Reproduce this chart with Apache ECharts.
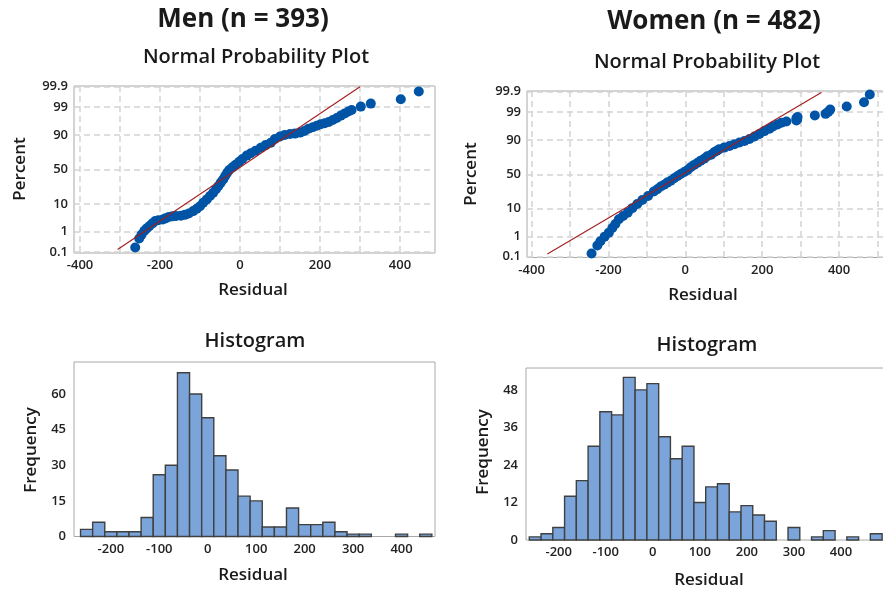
<!DOCTYPE html>
<html>
<head>
<meta charset="utf-8">
<script src="https://cdn.jsdelivr.net/npm/echarts@6/dist/echarts.min.js"></script>
<style>
  html, body { margin: 0; padding: 0; background: #ffffff; }
  #chart { width: 883px; height: 592px; }
</style>
</head>
<body>
<div id="chart"></div>
<script>
// Residual diagnostics for two groups: normal probability plots (top) and histograms (bottom).

// ---- Normal probability plot axes ----
const nppPercentTicks = [0.1, 1, 10, 50, 90, 99, 99.9];
const nppPercentLabels = ['0.1', '1', '10', '50', '90', '99', '99.9'];
const residualLabelTicks = [-400, -200, 0, 200, 400];
const residualGridTicks = [-400, -300, -200, -100, 0, 100, 200, 300, 400, 500];

// ---- Normal probability plot points: [residual, cumulative percent] ----
const menNpp = [
  [-262, 0.18], [-252, 0.5], [-246, 0.75], [-239, 1.1], [-233, 1.39], [-227, 1.7],
  [-219, 2.2], [-212, 2.7], [-204, 2.9], [-193, 3.1], [-186, 3.4], [-178, 3.8],
  [-169, 4.0], [-160, 4.1], [-148, 4.2], [-138, 4.5], [-128, 5.0], [-117, 6.0],
  [-108, 7.1], [-100, 8.5], [-92, 10.7], [-83, 13.2], [-75, 16.1], [-67, 19.2],
  [-60, 23], [-54, 26.8], [-48, 31.2], [-42, 35.6], [-37, 40.5], [-32, 45.2],
  [-27, 49.2], [-19, 53.2], [-11, 57.1], [-2, 61.4], [6, 65.2], [17, 69.8],
  [27, 72.9], [39, 75.8], [52, 79.1], [64, 81.9], [77, 84.2], [87, 87.3],
  [100, 89.1], [112, 90.2], [125, 90.8], [137, 91.0], [150, 91.6], [161, 92.5],
  [171, 93.6], [182, 94.3], [192, 94.9], [202, 95.5], [212, 95.8], [222, 96.2],
  [232, 96.8], [242, 97.3], [252, 97.8], [262, 98.2], [271, 98.5], [279, 98.7],
  [302, 99.06], [327, 99.31], [402, 99.57], [447, 99.82]
];
const womenNpp = [
  [-244, 0.15], [-229, 0.38], [-221, 0.6], [-210, 0.97], [-199, 1.43], [-190, 2.2],
  [-182, 3.1], [-173, 4.6], [-162, 5.9], [-150, 7.5], [-138, 10.2], [-125, 13.3],
  [-112, 16.8], [-97, 20.8], [-82, 25.8], [-73, 28.8], [-64, 32.2], [-55, 34.8],
  [-47, 37.7], [-38, 40.5], [-29, 44], [-20, 47.5], [-12, 50.4], [-3, 53.4],
  [6, 56.4], [14, 60.3], [23, 63.7], [32, 66.7], [40, 69.5], [49, 71.9],
  [57, 75], [67, 76.8], [75, 79.5], [82, 81.1], [88, 82.6], [101, 84.1],
  [115, 85.5], [128, 86.9], [141, 88.3], [154, 89.4], [167, 90.7], [180, 92.1],
  [193, 93.4], [206, 94.7], [219, 95.6], [228, 96.3], [240, 96.9], [250, 97.3],
  [263, 97.6], [289, 97.8], [291, 98.0], [289, 98.2], [292, 98.4], [337, 98.61],
  [365, 98.82], [372, 99.03], [377, 99.23], [420, 99.44], [465, 99.65], [480, 99.86]
];
// Fitted normal reference lines: [residual, percent] at both ends
const menFitLine = [[-306, 0.14], [300, 99.9]];
const womenFitLine = [[-359, 0.14], [354, 99.89]];

// ---- Histograms ----
const binWidth = 25;
const histResidualTicks = [-200, -100, 0, 100, 200, 300, 400];
const menBinCenters = [-250, -225, -200, -175, -150, -125, -100, -75, -50, -25, 0, 25, 50, 75,
  100, 125, 150, 175, 200, 225, 250, 275, 300, 325, 350, 375, 400, 425, 450];
const menCounts = [3, 6, 2, 2, 2, 8, 26, 30, 69, 60, 50, 34, 28, 17,
  15, 4, 4, 12, 5, 5, 6, 2, 1, 1, 0, 0, 1, 0, 1];
const menFreqTicks = [0, 15, 30, 45, 60];
const womenBinCenters = [-250, -225, -200, -175, -150, -125, -100, -75, -50, -25, 0, 25, 50, 75,
  100, 125, 150, 175, 200, 225, 250, 275, 300, 325, 350, 375, 400, 425, 450, 475];
const womenCounts = [1, 2, 4, 14, 19, 30, 41, 40, 52, 48, 50, 33, 26, 30,
  12, 17, 18, 9, 11, 8, 6, 0, 4, 0, 1, 3, 0, 1, 0, 2];
const womenFreqTicks = [0, 12, 24, 36, 48];

// Inverse standard normal CDF (Acklam), used for the probability scale
function probit(p) {
  const a = [-3.969683028665376e+01, 2.209460984245205e+02, -2.759285104469687e+02,
    1.383577518672690e+02, -3.066479806614716e+01, 2.506628277459239e+00];
  const b = [-5.447609879822406e+01, 1.615858368580409e+02, -1.556989798598866e+02,
    6.680131188771972e+01, -1.328068155288572e+01];
  const c = [-7.784894002430293e-03, -3.223964580411365e-01, -2.400758277161838e+00,
    -2.549732539343734e+00, 4.374664141464968e+00, 2.938163982698783e+00];
  const d = [7.784695709041462e-03, 3.224671290700398e-01, 2.445134137142996e+00,
    3.754408661907416e+00];
  const pl = 0.02425, ph = 1 - pl;
  let q, r;
  if (p < pl) {
    q = Math.sqrt(-2 * Math.log(p));
    return (((((c[0] * q + c[1]) * q + c[2]) * q + c[3]) * q + c[4]) * q + c[5]) /
      ((((d[0] * q + d[1]) * q + d[2]) * q + d[3]) * q + 1);
  }
  if (p > ph) {
    q = Math.sqrt(-2 * Math.log(1 - p));
    return -(((((c[0] * q + c[1]) * q + c[2]) * q + c[3]) * q + c[4]) * q + c[5]) /
      ((((d[0] * q + d[1]) * q + d[2]) * q + d[3]) * q + 1);
  }
  q = p - 0.5; r = q * q;
  return (((((a[0] * r + a[1]) * r + a[2]) * r + a[3]) * r + a[4]) * r + a[5]) * q /
    (((((b[0] * r + b[1]) * r + b[2]) * r + b[3]) * r + b[4]) * r + 1);
}
const toZ = pts => pts.map(([res, pct]) => [res, probit(pct / 100)]);
const zTicks = nppPercentTicks.map(p => probit(p / 100));
function zLabel(v) {
  let best = 0;
  zTicks.forEach((z, i) => { if (Math.abs(z - v) < Math.abs(zTicks[best] - v)) best = i; });
  return nppPercentLabels[best];
}
const toBins = (centers, counts) =>
  centers.map((c, i) => [c - binWidth / 2, c + binWidth / 2, counts[i]]).filter(b => b[2] > 0);

const FONT = "'Open Sans', 'Noto Sans', sans-serif";
const TXT = '#1a1a1a';
const FRAME = '#a8a8a8';

const gridBase = { show: true, borderColor: FRAME, borderWidth: 1, backgroundColor: 'transparent', containLabel: false, outerBoundsMode: 'none' };
const tickLabel = { color: '#222222', fontFamily: FONT, fontSize: 13, fontWeight: 600 };
const dashed = { show: true, lineStyle: { color: '#d4d4d4', width: 1.5, type: [6, 4] } };

function nppX(grid, min, max) {
  return {
    gridIndex: grid, type: 'value', min: min, max: max,
    axisLine: { show: false },
    axisTick: { show: false, customValues: residualGridTicks },
    axisLabel: Object.assign({ customValues: residualLabelTicks, margin: 6 }, tickLabel),
    splitLine: dashed
  };
}
function nppY(grid) {
  return {
    gridIndex: grid, type: 'value', min: -3.12, max: 3.12,
    axisLine: { show: false },
    axisTick: { show: false, customValues: zTicks },
    axisLabel: Object.assign({ customValues: zTicks, margin: 6, formatter: zLabel }, tickLabel),
    splitLine: dashed
  };
}
function histX(grid, min, max) {
  return {
    gridIndex: grid, type: 'value', min: min, max: max,
    axisLine: { show: false },
    axisTick: { show: false, customValues: histResidualTicks },
    axisLabel: Object.assign({ customValues: histResidualTicks, margin: 6 }, tickLabel),
    splitLine: { show: false }
  };
}
function histY(grid, max, ticks) {
  return {
    gridIndex: grid, type: 'value', min: 0, max: max,
    axisLine: { show: false },
    axisTick: { show: false, customValues: ticks },
    axisLabel: Object.assign({ customValues: ticks, margin: 8 }, tickLabel),
    splitLine: { show: false }
  };
}
function scatter(idx, pts) {
  return {
    type: 'scatter', xAxisIndex: idx, yAxisIndex: idx, data: toZ(pts),
    symbol: 'circle', symbolSize: 10, itemStyle: { color: '#0054a6', opacity: 1 },
    z: 2, silent: true
  };
}
function fitLine(idx, pts) {
  return {
    type: 'line', xAxisIndex: idx, yAxisIndex: idx, data: toZ(pts),
    symbol: 'none', lineStyle: { color: '#a41d1d', width: 1.1 }, z: 3, silent: true
  };
}
function histogram(idx, centers, counts) {
  return {
    type: 'custom', xAxisIndex: idx, yAxisIndex: idx,
    data: toBins(centers, counts),
    encode: { x: [0, 1], y: 2 },
    silent: true,
    renderItem: function (params, api) {
      const lo = api.coord([api.value(0), 0]);
      const hi = api.coord([api.value(1), api.value(2)]);
      return {
        type: 'rect',
        shape: { x: lo[0], y: hi[1], width: hi[0] - lo[0], height: lo[1] - hi[1] },
        style: { fill: '#7ba5da', stroke: '#404040', lineWidth: 1.4 }
      };
    }
  };
}
function label(text, x, y, size, weight, rotate) {
  const el = {
    type: 'text', x: x, y: y, silent: true,
    style: {
      text: text, fill: TXT, font: weight + ' ' + size + 'px ' + FONT,
      textAlign: 'center', textVerticalAlign: 'middle', verticalAlign: 'middle'
    }
  };
  if (rotate) el.rotation = Math.PI / 2;
  return el;
}

const chart = echarts.init(document.getElementById('chart'), null, { renderer: 'canvas' });
chart.setOption({
  animation: false,
  backgroundColor: '#ffffff',
  grid: [
    Object.assign({ left: 74, top: 86, width: 361, height: 167 }, gridBase),
    Object.assign({ left: 527, top: 91, width: 362, height: 166.5 }, gridBase),
    Object.assign({ left: 74, top: 362, width: 361, height: 174.5 }, gridBase),
    Object.assign({ left: 526, top: 368, width: 362, height: 172 }, gridBase)
  ],
  xAxis: [
    nppX(0, -415, 487.5),
    nppX(1, -412, 530),
    histX(2, -276, 469),
    histX(3, -269.5, 500)
  ],
  yAxis: [
    nppY(0),
    nppY(1),
    histY(2, 73.5, menFreqTicks),
    histY(3, 55, womenFreqTicks)
  ],
  series: [
    scatter(0, menNpp),
    fitLine(0, menFitLine),
    scatter(1, womenNpp),
    fitLine(1, womenFitLine),
    histogram(2, menBinCenters, menCounts),
    histogram(3, womenBinCenters, womenCounts)
  ],
  graphic: [
    label('Men (n = 393)', 243, 20, 26, 'bold'),
    label('Women (n = 482)', 714, 22, 26, 'bold'),
    label('Normal Probability Plot', 256, 57, 20, 600),
    label('Normal Probability Plot', 707, 62, 20, 600),
    label('Percent', 20, 169, 17, 600, true),
    label('Percent', 471, 174, 17, 600, true),
    label('Residual', 253, 290, 17, 600),
    label('Residual', 703, 295, 17, 600),
    label('Histogram', 255, 341, 20, 600),
    label('Histogram', 707, 345, 20, 600),
    label('Frequency', 31, 450, 17, 600, true),
    label('Frequency', 483, 452, 17, 600, true),
    label('Residual', 253, 575, 17, 600),
    label('Residual', 709, 580, 17, 600)
  ]
});
</script>
</body>
</html>
